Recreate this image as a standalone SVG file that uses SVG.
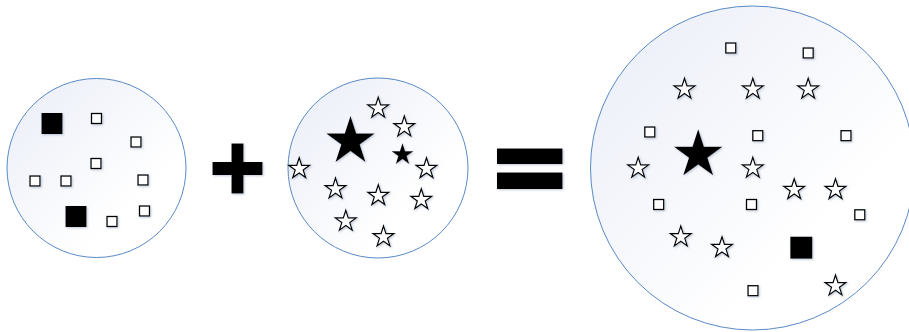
<svg xmlns="http://www.w3.org/2000/svg" xmlns:xlink="http://www.w3.org/1999/xlink" width="909" height="332" viewBox="0 0 909 332">
<defs>
<linearGradient id="g" x1="0" y1="0" x2="1" y2="1">
<stop offset="0" stop-color="#e9edf7"/>
<stop offset="0.7" stop-color="#ffffff"/>
</linearGradient>
<filter id="sh" x="-20%" y="-20%" width="150%" height="150%">
<feDropShadow dx="1" dy="1" stdDeviation="0.8" flood-color="#8090a8" flood-opacity="0.5"/>
</filter>
<polygon id="s" points="0,-11 2.47,-3.4 10.46,-3.4 3.99,1.3 6.47,8.9 0,4.2 -6.47,8.9 -3.99,1.3 -10.46,-3.4 -2.47,-3.4"/>
<rect id="q" x="-5" y="-5" width="10" height="10"/>
</defs>
<style>
.c{fill:url(#g);stroke:#5a8ac6;stroke-width:1}
.os{fill:#fff;stroke:#000;stroke-width:1.2;stroke-linejoin:miter}
.sq{fill:#fff;stroke:#000;stroke-width:1.3}
.blk{fill:#000}
.sh{filter:url(#sh)}
</style>
<g id="set-squares">
<circle class="c" cx="96.5" cy="168" r="89.5"/>
<g class="sh">
<rect class="blk" x="41.5" y="113" width="21" height="21"/>
<rect class="blk" x="65.5" y="206" width="21" height="21"/>
<use href="#q" class="sq" x="96.5" y="118.5"/>
<use href="#q" class="sq" x="136" y="142"/>
<use href="#q" class="sq" x="96" y="163.5"/>
<use href="#q" class="sq" x="35" y="181"/>
<use href="#q" class="sq" x="66" y="181"/>
<use href="#q" class="sq" x="143" y="180"/>
<use href="#q" class="sq" x="144.5" y="211"/>
<use href="#q" class="sq" x="112" y="221.5"/>
</g>
</g>
<g id="plus" class="sh">
<rect class="blk" x="212.5" y="162" width="50" height="13"/>
<rect class="blk" x="231.5" y="143.5" width="12" height="50"/>
</g>
<g id="set-stars">
<circle class="c" cx="378" cy="168" r="90"/>
<g class="sh">
<use href="#s" class="blk" transform="translate(350.5,141.4) scale(2.31)"/>
<use href="#s" class="blk" transform="translate(402.5,154.7) scale(1.04)"/>
<use href="#s" class="os" x="378.2" y="108.3"/>
<use href="#s" class="os" x="404.3" y="127"/>
<use href="#s" class="os" x="299.2" y="168.7"/>
<use href="#s" class="os" x="426.5" y="168.7"/>
<use href="#s" class="os" x="335.5" y="189"/>
<use href="#s" class="os" x="378.3" y="195.7"/>
<use href="#s" class="os" x="421.3" y="199.7"/>
<use href="#s" class="os" x="345.8" y="221.3"/>
<use href="#s" class="os" x="383.5" y="237"/>
</g>
</g>
<g id="equals" class="sh">
<rect class="blk" x="497" y="148.5" width="65.5" height="15.5"/>
<rect class="blk" x="497" y="172.5" width="65.5" height="16.5"/>
</g>
<g id="set-union">
<circle class="c" cx="752.5" cy="168" r="162"/>
<g class="sh">
<use href="#s" class="blk" transform="translate(698.2,154.7) scale(2.31)"/>
<rect class="blk" x="790.3" y="236.7" width="22" height="22"/>
<use href="#q" class="sq" x="730.8" y="48"/>
<use href="#q" class="sq" x="808.2" y="53"/>
<use href="#q" class="sq" x="649.8" y="132"/>
<use href="#q" class="sq" x="757.8" y="135.7"/>
<use href="#q" class="sq" x="846" y="135.7"/>
<use href="#q" class="sq" x="658.7" y="204.5"/>
<use href="#q" class="sq" x="751.5" y="204.5"/>
<use href="#q" class="sq" x="859.8" y="214.8"/>
<use href="#q" class="sq" x="753" y="290.7"/>
<use href="#s" class="os" x="684.5" y="89.3"/>
<use href="#s" class="os" x="752.8" y="89.3"/>
<use href="#s" class="os" x="808.2" y="89.3"/>
<use href="#s" class="os" x="638.2" y="168.3"/>
<use href="#s" class="os" x="752.8" y="168.3"/>
<use href="#s" class="os" x="794.2" y="189.7"/>
<use href="#s" class="os" x="835.5" y="189.7"/>
<use href="#s" class="os" x="680.8" y="237"/>
<use href="#s" class="os" x="722" y="247.7"/>
<use href="#s" class="os" x="835.5" y="286"/>
</g>
</g>
<g id="connectors"/>
</svg>
